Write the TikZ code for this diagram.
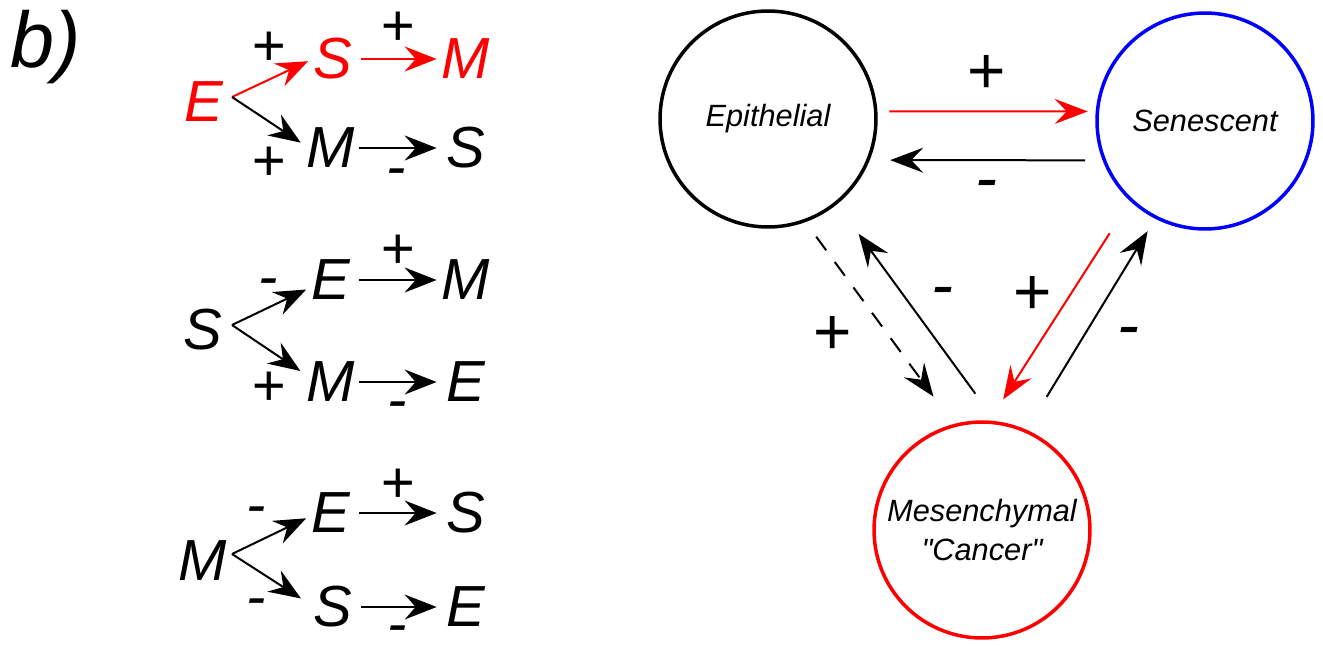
\documentclass[tikz,border=0pt]{standalone}
\usepackage{fontspec}
\setmainfont{Liberation Sans}
\newfontfamily\statefont{Liberation Sans}
\usetikzlibrary{arrows.meta}
\definecolor{cRed}{HTML}{FF0000}
\definecolor{cBlue}{HTML}{0000FF}
\tikzset{
  letter/.style={inner sep=0pt,minimum width=0.98cm,font=\fontsize{33}{40}\selectfont\itshape},
  plussign/.style={inner sep=0pt,font=\fontsize{33}{40}\selectfont\itshape,yshift=-0.07cm},
  minussign/.style={inner sep=0pt,font=\fontsize{33}{40}\selectfont\itshape,yshift=-0.12cm},
  bigplus/.style={inner sep=0pt,font=\fontsize{37.5}{45}\selectfont\itshape,yshift=-0.08cm},
  bigminus/.style={inner sep=0pt,font=\fontsize{37.5}{45}\selectfont\itshape,yshift=-0.13cm},
  state/.style={circle,draw,line width=0.07cm,minimum size=4.32cm,inner sep=0pt,align=center,
    font=\statefont\fontsize{17.5}{22.7}\selectfont\itshape},
  larr/.style={-{Stealth[length=0.64cm,width=0.5cm,inset=0.22cm]},line width=0.04cm},
  hop/.style={larr,shorten <=0.07cm,shorten >=0.09cm},
  rarr/.style={-{Stealth[length=0.66cm,width=0.5cm,inset=0.24cm]},line width=0.04cm},
}
\begin{document}
\begin{tikzpicture}[x=0.02cm,y=-0.02cm]
  \useasboundingbox (0,0) rectangle (1323,646);
  \node[anchor=base west,font=\fontsize{45}{54}\selectfont\itshape] (lbl) at (4,67) {b)};

  % E branch
  \node[letter,text=cRed] (r1) at (204,102) {E};
  \node[letter,text=cRed] (u1) at (333,59) {S};
  \node[letter,text=cRed] (uu1) at (466,59) {M};
  \node[letter] (d1) at (331,148) {M};
  \node[letter] (dd1) at (466,148) {S};
  \coordinate (b1) at (232,97);
  \draw[larr,cRed] (b1) -- (u1.185);
  \draw[larr,shorten >=0.13cm] (b1) -- (d1.176);
  \draw[hop,cRed] (u1.east) -- (uu1.west);
  \draw[hop] (d1.east) -- (dd1.west);
  \node[plussign] (p1a) at (268,45) {+};
  \node[plussign] (p1b) at (397,25) {+};
  \node[plussign] (p1c) at (268,160) {+};
  \node[minussign] (p1d) at (396,172) {-};

  % S branch
  \node[letter] (r2) at (203,330) {S};
  \node[letter] (u2) at (331,280) {E};
  \node[letter] (uu2) at (466,280) {M};
  \node[letter] (d2) at (331,382) {M};
  \node[letter] (dd2) at (466,382) {E};
  \coordinate (b2) at (232,325);
  \draw[larr] (b2) -- (u2.201);
  \draw[larr,shorten >=0.14cm] (b2) -- (d2.164);
  \draw[hop] (u2.east) -- (uu2.west);
  \draw[hop] (d2.east) -- (dd2.west);
  \node[minussign] (p2a) at (268,282) {-};
  \node[plussign] (p2b) at (397,248) {+};
  \node[plussign] (p2c) at (268,385) {+};
  \node[minussign] (p2d) at (397,405) {-};

  % M branch
  \node[letter] (r3) at (203,561) {M};
  \node[letter] (u3) at (331,513) {E};
  \node[letter] (uu3) at (466,513) {S};
  \node[letter] (d3) at (333,607) {S};
  \node[letter] (dd3) at (466,607) {E};
  \coordinate (b3) at (232,554);
  \draw[larr] (b3) -- (u3.192);
  \draw[larr,shorten >=0.17cm] (b3) -- (d3.171);
  \draw[hop] (u3.east) -- (uu3.west);
  \draw[hop] (d3.east) -- (dd3.west);
  \node[minussign] (p3a) at (256,510) {-};
  \node[plussign] (p3b) at (397,482) {+};
  \node[minussign] (p3c) at (256,602) {-};
  \node[minussign] (p3d) at (397,629) {-};

  % cell states
  \node[state] (epi) at (768,119) {Epithelial};
  \node[state,draw=cBlue] (sen) at (1205,121) {Senescent};
  \node[state,draw=cRed] (mes) at (982,530) {Mesenchymal\\"Cancer"};

  \draw[rarr,cRed,shorten <=0.24cm,shorten >=0.16cm] (epi.4) -- (sen.175);
  \draw[rarr,shorten <=0.35cm,shorten >=0.41cm] (sen.201) -- (epi.-22);
  \draw[rarr,dash pattern=on 0.34cm off 0.29cm,shorten <=0.36cm,shorten >=0.68cm] (epi.-70) -- (mes.105);
  \draw[rarr,shorten <=0.68cm,shorten >=0.73cm] (mes.83) -- (epi.-51);
  \draw[rarr,cRed,shorten <=0.76cm,shorten >=0.5cm] (sen.-133) -- (mes.86);
  \draw[rarr,shorten <=0.77cm,shorten >=0.29cm] (mes.66) -- (sen.-117);

  \node[bigplus] (q1) at (986,70) {+};
  \node[bigminus] (q2) at (986,184) {-};
  \node[bigplus] (q3) at (832,331) {+};
  \node[bigminus] (q4) at (942,291) {-};
  \node[bigplus] (q5) at (1032,291) {+};
  \node[bigminus] (q6) at (1128,331) {-};
\end{tikzpicture}
\end{document}
